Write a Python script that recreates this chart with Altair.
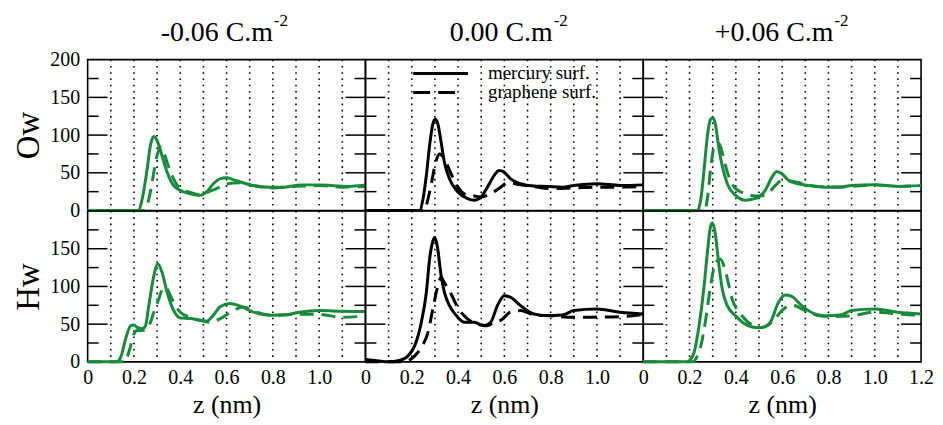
import altair as alt
import pandas as pd

# ---------------- data ----------------
# column titles (charge densities) and row labels
col_main = ["-0.06 C.m", "0.00 C.m", "+0.06 C.m"]
col_sup = ["-2", "-2", "-2"]
row_labels = ["Ow", "Hw"]
line_colors = ["#178b3b", "#000000", "#178b3b"]

x_tick_labels_lr = [0, 0.2, 0.4, 0.6, 0.8, 1.0]
x_tick_labels_last = [0, 0.2, 0.4, 0.6, 0.8, 1.0, 1.2]
y_tick_labels_top = [0, 50, 100, 150, 200]
y_tick_labels_bot = [0, 50, 100, 150]
grid_z = [0.1, 0.2, 0.3, 0.4, 0.5, 0.6, 0.7, 0.8, 0.9, 1.0, 1.1]
major_ticks = [50, 100, 150]
minor_ticks = [25, 75, 125, 175]
legend_labels = ["mercury surf.", "graphene surf."]

# Ow, -0.06 C/m2
ow_neg_hg_z = [0, 0.22, 0.236, 0.257, 0.271, 0.286, 0.30, 0.321, 0.343, 0.371, 0.40, 0.443, 0.486, 0.514, 0.543, 0.571, 0.60, 0.629, 0.671, 0.714, 0.786, 0.85, 0.92, 1.0, 1.06, 1.12, 1.2]
ow_neg_hg_g = [0, 0, 15.8, 55, 86, 98, 92.5, 72.8, 50.9, 33.3, 26.7, 22.4, 20.2, 24.6, 35.5, 42, 43.4, 41, 36.8, 33.3, 31, 31, 34, 34, 33, 32, 34]
ow_neg_gr_z = [0, 0.245, 0.257, 0.271, 0.286, 0.30, 0.314, 0.329, 0.343, 0.371, 0.40, 0.443, 0.486, 0.529, 0.571, 0.60, 0.657, 0.714, 0.8, 0.9, 1.0, 1.1, 1.2]
ow_neg_gr_g = [0, 0, 7, 24.6, 50.9, 73, 84, 77, 64, 42, 29, 24, 21, 25.6, 31, 35.5, 36.8, 33, 30, 32, 33, 31, 32]
# Hw, -0.06 C/m2
hw_neg_hg_z = [0, 0.125, 0.143, 0.164, 0.186, 0.20, 0.214, 0.235, 0.25, 0.264, 0.286, 0.303, 0.321, 0.343, 0.371, 0.40, 0.443, 0.486, 0.514, 0.543, 0.571, 0.614, 0.657, 0.714, 0.786, 0.85, 0.914, 1.0, 1.1, 1.2]
hw_neg_hg_g = [0, 0, 6.2, 30.5, 48, 49, 45.7, 44, 48, 74.5, 114.3, 129.8, 119, 92.6, 68.4, 58.3, 57.4, 55.2, 54, 61.8, 72.8, 77.3, 74.2, 66.2, 61.8, 62, 65.8, 68, 67, 66.7]
hw_neg_gr_z = [0, 0.165, 0.171, 0.186, 0.20, 0.214, 0.236, 0.257, 0.286, 0.307, 0.329, 0.343, 0.364, 0.40, 0.443, 0.486, 0.529, 0.571, 0.629, 0.671, 0.729, 0.8, 0.9, 1.0, 1.1, 1.2]
hw_neg_gr_g = [0, 0, 6, 21.5, 37, 41.5, 41.5, 43.7, 65.8, 83.4, 99, 96.8, 83.4, 65.8, 59, 55, 52.5, 57, 68, 72.8, 66, 62, 63, 63, 59, 61]

# Ow, 0.00 C/m2
ow_zero_hg_z = [0, 0.234, 0.249, 0.263, 0.277, 0.291, 0.301, 0.313, 0.327, 0.341, 0.363, 0.399, 0.441, 0.47, 0.499, 0.527, 0.556, 0.577, 0.599, 0.627, 0.67, 0.727, 0.784, 0.85, 0.9, 1.0, 1.1, 1.2]
ow_zero_hg_g = [0, 0, 15.8, 46.5, 86, 114.5, 121, 114.5, 90.4, 64, 42, 24.6, 15.8, 13.6, 18, 31, 46.5, 53, 50.9, 42, 35.5, 32.5, 32, 31, 33.3, 35.5, 33.3, 34]
ow_zero_gr_z = [0, 0.255, 0.263, 0.286, 0.30, 0.32, 0.341, 0.37, 0.399, 0.441, 0.47, 0.499, 0.541, 0.584, 0.613, 0.67, 0.741, 0.8, 0.9, 1.0, 1.1, 1.2]
ow_zero_gr_g = [0, 0, 7, 37.7, 59.6, 75, 68.4, 48.7, 31, 20.2, 19.3, 18, 22.4, 31, 36.8, 34, 31, 29, 30, 31, 31, 32]
# Hw, 0.00 C/m2
hw_zero_hg_z = [0, 0.05, 0.1, 0.141, 0.184, 0.213, 0.241, 0.263, 0.277, 0.291, 0.299, 0.31, 0.327, 0.341, 0.363, 0.399, 0.427, 0.47, 0.513, 0.541, 0.57, 0.599, 0.627, 0.67, 0.727, 0.784, 0.85, 0.9, 1.0, 1.1, 1.2]
hw_zero_hg_g = [3, 1.5, 0, 1.5, 8, 21.5, 52, 92, 136, 160, 165, 154, 114, 92, 74.5, 59, 52.5, 52.5, 48, 52.5, 74.5, 87.7, 85.5, 74.5, 63.5, 61.3, 62, 68, 70, 65.8, 63.6]
hw_zero_gr_z = [0, 0.16, 0.184, 0.213, 0.241, 0.27, 0.291, 0.313, 0.327, 0.341, 0.37, 0.399, 0.441, 0.484, 0.527, 0.556, 0.584, 0.627, 0.67, 0.727, 0.8, 0.9, 1.0, 1.1, 1.2]
hw_zero_gr_g = [0, 0, 1.5, 8, 19, 39, 70, 101, 112, 105, 90, 72, 57, 50, 48, 52.5, 55, 66, 68, 62.4, 61, 59, 59.4, 60, 63]

# Ow, +0.06 C/m2
ow_pos_hg_z = [0, 0.234, 0.249, 0.263, 0.277, 0.291, 0.301, 0.313, 0.327, 0.341, 0.363, 0.399, 0.441, 0.47, 0.499, 0.527, 0.556, 0.577, 0.599, 0.627, 0.67, 0.727, 0.784, 0.85, 0.9, 1.0, 1.1, 1.2]
ow_pos_hg_g = [0, 0, 15.8, 55, 99, 121, 123, 112, 81.6, 59.6, 35.5, 20, 13.6, 15, 18, 26.8, 44.3, 51.8, 48.7, 40, 35.5, 32.5, 31, 31, 33.3, 34.2, 32, 33]
ow_pos_gr_z = [0, 0.265, 0.277, 0.291, 0.306, 0.327, 0.341, 0.363, 0.399, 0.441, 0.484, 0.527, 0.57, 0.599, 0.656, 0.727, 0.8, 0.9, 1.0, 1.1, 1.2]
ow_pos_gr_g = [0, 0, 16, 55, 84, 89, 77, 51, 29, 22.4, 19.3, 20.2, 33, 40, 38, 33, 31, 32, 34, 32, 33]
# Hw, +0.06 C/m2
hw_pos_hg_z = [0, 0.19, 0.199, 0.22, 0.241, 0.263, 0.277, 0.291, 0.299, 0.31, 0.327, 0.341, 0.363, 0.399, 0.441, 0.484, 0.513, 0.549, 0.584, 0.613, 0.641, 0.684, 0.741, 0.784, 0.85, 0.9, 1.0, 1.1, 1.2]
hw_pos_hg_g = [0, 0, 1.5, 13, 48, 101, 145, 180, 184, 172, 127.8, 97, 74.5, 61, 50, 45.7, 45.7, 52.5, 79, 88.7, 86.9, 74.5, 63.5, 61.3, 62, 68, 70, 65.8, 63.6]
hw_pos_gr_z = [0, 0.215, 0.227, 0.249, 0.27, 0.291, 0.313, 0.334, 0.356, 0.384, 0.427, 0.47, 0.513, 0.556, 0.599, 0.641, 0.699, 0.756, 0.8, 0.9, 1.0, 1.1, 1.2]
hw_pos_gr_g = [0, 0, 4, 21.5, 57, 101, 132, 136, 119, 83.4, 61, 49, 45.7, 52.5, 68, 75.5, 68, 61.3, 60, 61, 66, 63.6, 61]

series = [
    [((ow_neg_hg_z, ow_neg_hg_g), (ow_neg_gr_z, ow_neg_gr_g)),
     ((ow_zero_hg_z, ow_zero_hg_g), (ow_zero_gr_z, ow_zero_gr_g)),
     ((ow_pos_hg_z, ow_pos_hg_g), (ow_pos_gr_z, ow_pos_gr_g))],
    [((hw_neg_hg_z, hw_neg_hg_g), (hw_neg_gr_z, hw_neg_gr_g)),
     ((hw_zero_hg_z, hw_zero_hg_g), (hw_zero_gr_z, hw_zero_gr_g)),
     ((hw_pos_hg_z, hw_pos_hg_g), (hw_pos_gr_z, hw_pos_gr_g))],
]

# ---------------- styling ----------------
FONT = "Liberation Serif"
W, H = 279, 151.5
MAJOR_LEN, MINOR_LEN = 20, 11
DASH = [14, 8]
LW = 3
TITLE_RIGHT = [186, 188, 191]

xscale = alt.Scale(domain=[0, 1.2], nice=False, zero=False)
yscale = alt.Scale(domain=[0, 200], nice=False)


def make_panel(r, c):
    # x axis
    if r == 1:
        vals = x_tick_labels_last if c == 2 else x_tick_labels_lr
        xaxis = alt.Axis(values=vals, labelExpr="datum.value == 0 ? '0' : format(datum.value, '.1f')",
                         ticks=False, tickSize=0, grid=False, domain=False, labelFlush=False,
                         labelOverlap=False, labelFont=FONT, labelFontSize=20, labelColor="black",
                         labelPadding=6, title="z (nm)", titleFont=FONT, titleFontSize=26,
                         titleFontWeight="normal", titleColor="black", titleY=51,
                         titleBaseline="alphabetic")
    else:
        xaxis = None
    if c == 0:
        vals = y_tick_labels_top if r == 0 else y_tick_labels_bot
        yaxis = alt.Axis(values=vals, ticks=False, tickSize=0, grid=False, domain=False,
                         labelFlush=False, labelOverlap=False, labelFont=FONT, labelFontSize=20,
                         labelColor="black", labelPadding=8, labelBaseline="middle",
                         title=row_labels[r], titleFont=FONT,
                         titleFontSize=33, titleFontWeight="normal",
                         titleColor="black", titleX=-49, titleY=H / 2, titleAngle=270,
                         titleAlign="center", titleBaseline="alphabetic")
    else:
        yaxis = None

    X = alt.X("z:Q", scale=xscale, axis=xaxis)
    Y = alt.Y("g:Q", scale=yscale, axis=yaxis)

    (hz, hgv), (gz, ggv) = series[r][c]
    df_hg = pd.DataFrame({"z": hz, "g": hgv})
    df_gr = pd.DataFrame({"z": gz, "g": ggv})
    color = line_colors[c]

    grid = alt.Chart(pd.DataFrame({"z": grid_z})).mark_rule(
        color="black", strokeWidth=1.6, strokeDash=[1.6, 4.7]).encode(x=X)

    maj = pd.DataFrame({"g": major_ticks})
    mnr = pd.DataFrame({"g": minor_ticks})
    ticks = [
        alt.Chart(maj).mark_rule(color="black", strokeWidth=1.5).encode(
            y=Y, x=alt.value(0), x2=alt.value(MAJOR_LEN)),
        alt.Chart(mnr).mark_rule(color="black", strokeWidth=1.5).encode(
            y=Y, x=alt.value(0), x2=alt.value(MINOR_LEN)),
        alt.Chart(maj).mark_rule(color="black", strokeWidth=1.5).encode(
            y=Y, x=alt.value(W - MAJOR_LEN), x2=alt.value(W)),
        alt.Chart(mnr).mark_rule(color="black", strokeWidth=1.5).encode(
            y=Y, x=alt.value(W - MINOR_LEN), x2=alt.value(W)),
    ]

    dashed = alt.Chart(df_gr).mark_line(color=color, strokeWidth=LW, strokeDash=DASH,
                                        interpolate="monotone").encode(x=X, y=Y, order="z:Q")
    solid = alt.Chart(df_hg).mark_line(color=color, strokeWidth=LW,
                                       interpolate="monotone").encode(x=X, y=Y, order="z:Q")

    layers = [grid] + ticks + [dashed, solid]

    if r == 0 and c == 1:
        lab = pd.DataFrame({"t": legend_labels})
        layers += [
            alt.Chart(lab.iloc[[0]]).mark_rule(color="black", strokeWidth=LW).encode(
                x=alt.value(48), x2=alt.value(103), y=alt.value(14)),
            alt.Chart(lab.iloc[[1]]).mark_rule(color="black", strokeWidth=LW, strokeDash=[17, 8]).encode(
                x=alt.value(48), x2=alt.value(90), y=alt.value(33)),
            alt.Chart(lab.iloc[[0]]).mark_text(font=FONT, fontSize=19, align="left", baseline="middle",
                                              color="black").encode(
                text="t:N", x=alt.value(123), y=alt.value(13)),
            alt.Chart(lab.iloc[[1]]).mark_text(font=FONT, fontSize=19, align="left", baseline="middle",
                                              color="black").encode(
                text="t:N", x=alt.value(123), y=alt.value(33)),
        ]

    if r == 0:
        tdf = pd.DataFrame({"m": [col_main[c]], "s": [col_sup[c]]})
        right_edge = TITLE_RIGHT[c]
        layers += [
            alt.Chart(tdf).mark_text(font=FONT, fontSize=28, align="right", baseline="alphabetic",
                                     color="black").encode(
                text="m:N", x=alt.value(right_edge), y=alt.value(-19)),
            alt.Chart(tdf).mark_text(font=FONT, fontSize=17, align="left", baseline="alphabetic",
                                     color="black").encode(
                text="s:N", x=alt.value(right_edge + 1), y=alt.value(-34)),
        ]

    return alt.layer(*layers).properties(width=W, height=H)


panels = [make_panel(r, c) for r in range(2) for c in range(3)]

chart = alt.concat(*panels, columns=3, spacing=0, bounds="flush").properties(
    padding={"left": 4, "top": 2, "right": 0, "bottom": 0},
    background="white",
).configure_view(stroke="black", strokeWidth=1.6)

chart.save("out.html", embed_options={"renderer": "svg", "actions": False})
